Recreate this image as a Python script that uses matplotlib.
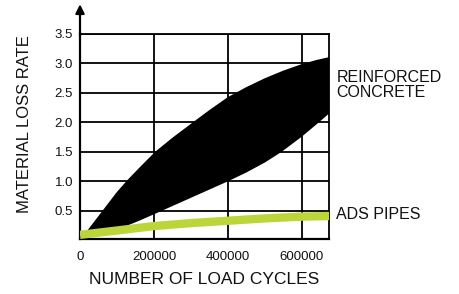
import numpy as np
import matplotlib
matplotlib.use("Agg")
import matplotlib.pyplot as plt

plt.rcParams['font.family'] = ['Liberation Sans', 'DejaVu Sans']

# Données
cycles_haut = [17000, 67000, 100000, 128000, 165000, 203000, 250000, 305000, 350000,
               400000, 450000, 500000, 550000, 600000, 640000, 675000]
beton_haut = [0.14, 0.55, 0.82, 1.02, 1.26, 1.50, 1.74, 2.00, 2.21,
              2.43, 2.60, 2.75, 2.88, 2.99, 3.06, 3.11]

cycles_bas = [17000, 60000, 121000, 160000, 200000, 250000, 300000, 350000,
              400000, 450000, 500000, 545000, 600000, 640000, 675000]
beton_bas = [0.14, 0.18, 0.23, 0.33, 0.44, 0.58, 0.72, 0.86,
             1.00, 1.15, 1.32, 1.50, 1.76, 1.97, 2.16]

cycles_ads = [0, 121000, 200000, 300000, 400000, 500000, 600000, 675000]
ads = [0.09, 0.18, 0.24, 0.29, 0.33, 0.37, 0.40, 0.41]

xticks = [0, 200000, 400000, 600000]
yticks = [0.5, 1.0, 1.5, 2.0, 2.5, 3.0, 3.5]

VERT = '#bcd63a'
NOIR_TEXTE = '#111111'

fig = plt.figure(figsize=(4.59, 2.94), dpi=100)
ax = fig.add_axes([80 / 459, 55 / 294, 249 / 459, 205 / 294])

# enveloppe béton armé : bord haut + bord bas en un seul polygone
xs = np.concatenate([cycles_haut, cycles_bas[::-1]])
ys = np.concatenate([beton_haut, beton_bas[::-1]])
ax.fill(xs, ys, color='black', lw=0, zorder=2)

ax.plot(cycles_ads, ads, color=VERT, lw=6, solid_capstyle='butt', zorder=3)

ax.set_xlim(0, 673000)
ax.set_ylim(0.02, 3.5)
ax.set_xticks(xticks)
ax.set_xticklabels([str(v) for v in xticks])
ax.set_yticks(yticks)
ax.set_yticklabels([f'{v:.1f}' for v in yticks])
ax.tick_params(axis='both', length=0, labelsize=9.5, colors=NOIR_TEXTE)
ax.tick_params(axis='x', pad=9)
ax.tick_params(axis='y', pad=5)

ax.grid(True, color='black', lw=1.3, zorder=1)
ax.set_axisbelow(True)
for s in ax.spines.values():
    s.set_linewidth(1.3)
ax.spines['left'].set_linewidth(1.6)
ax.spines['bottom'].set_linewidth(1.6)

# flèche de l'axe vertical
ax.annotate('', xy=(0, 1.145), xytext=(0, 0.99), xycoords='axes fraction',
            arrowprops=dict(arrowstyle='-|>', lw=1.6, color='black', mutation_scale=13,
                            shrinkA=0, shrinkB=0), annotation_clip=False)

ax.set_xlabel('NUMBER OF LOAD CYCLES', fontsize=12.5, color=NOIR_TEXTE, labelpad=6)
fig.text(25 / 459, 1 - 124.5 / 294, 'MATERIAL LOSS RATE', rotation=90,
         ha='center', va='center', fontsize=12, color=NOIR_TEXTE)

ax.text(1.03, 2.63, 'REINFORCED\nCONCRETE', transform=ax.get_yaxis_transform(),
        ha='left', va='center', fontsize=11.5, color=NOIR_TEXTE, linespacing=1.0,
        clip_on=False)
ax.text(1.03, 0.44, 'ADS PIPES', transform=ax.get_yaxis_transform(),
        ha='left', va='center', fontsize=11.5, color=NOIR_TEXTE, clip_on=False)

fig.savefig('out.png', dpi=100)
